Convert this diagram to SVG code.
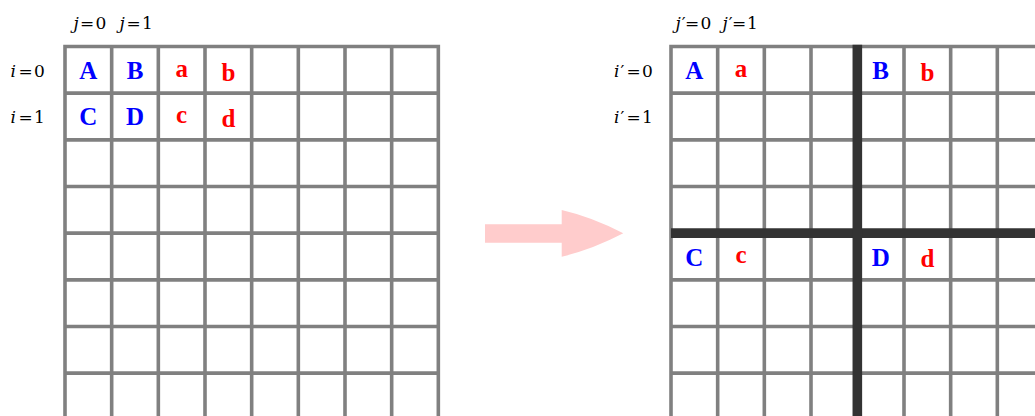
<svg xmlns="http://www.w3.org/2000/svg" width="1035" height="416" viewBox="0 0 1035 416">
<style>
.g{fill:none;stroke:#808080;stroke-width:3.6}
.t{fill:none;stroke:#333333;stroke-width:9.6}
.lbl{font-family:"DejaVu Serif","Liberation Serif",serif;font-size:17px;fill:#000}
.it{font-style:italic}
.L{font-family:"Liberation Serif","DejaVu Serif",serif;font-weight:bold;font-size:25px;text-anchor:middle}
.b{fill:#0000ff}
.r{fill:#ff0000}
</style>
<rect width="1035" height="416" fill="#ffffff"/>
<g id="left-grid">
<path class="g" d="M65,430V46.5H438.33V430"/>
<path class="g" d="M111.67,46.5V430M158.33,46.5V430M205,46.5V430M251.67,46.5V430M298.33,46.5V430M345,46.5V430M391.67,46.5V430"/>
<path class="g" d="M65,93.17H438.33M65,139.83H438.33M65,186.5H438.33M65,233.17H438.33M65,279.83H438.33M65,326.5H438.33M65,373.17H438.33"/>
</g>
<g id="left-labels">
<text class="lbl" y="29.3"><tspan class="it" x="73.5">j</tspan><tspan x="80">=</tspan><tspan x="95.5">0</tspan></text>
<text class="lbl" y="29.3"><tspan class="it" x="119.5">j</tspan><tspan x="126.5">=</tspan><tspan x="142">1</tspan></text>
<text class="lbl" y="77.3"><tspan class="it" x="10.5">i</tspan><tspan x="18.5">=</tspan><tspan x="34">0</tspan></text>
<text class="lbl" y="123.3"><tspan class="it" x="10.5">i</tspan><tspan x="18.5">=</tspan><tspan x="34">1</tspan></text>
</g>
<g id="left-cells">
<text class="L b" x="88.33" y="78.8">A</text>
<text class="L b" x="135" y="78.8">B</text>
<text class="L r" x="181.67" y="76.5">a</text>
<text class="L r" x="228.33" y="80.5">b</text>
<text class="L b" x="88.33" y="125.3">C</text>
<text class="L b" x="135" y="125.3">D</text>
<text class="L r" x="181.67" y="122.8">c</text>
<text class="L r" x="228.33" y="126.8">d</text>
</g>
<g id="connectors">
<path id="arrow" fill="#ffcccc" d="M485,224.3H561.7V210Q592,217 623.3,233.3Q592,249.6 561.7,256.7V242.7H485Z"/>
</g>
<g id="right-grid">
<path class="g" d="M671,430V46.5H1040"/>
<path class="g" d="M717.67,46.5V430M764.33,46.5V430M811,46.5V430M904,46.5V430M950.67,46.5V430M997.33,46.5V430"/>
<path class="g" d="M671,93.17H1040M671,139.83H1040M671,186.5H1040M671,279.83H1040M671,326.5H1040M671,373.17H1040"/>
<path class="t" d="M671,233.17H1040"/>
<path class="t" d="M857.33,44.7V430"/>
</g>
<g id="right-labels">
<text class="lbl" y="29.3"><tspan class="it" x="675.5">j</tspan><tspan dx="1">′</tspan><tspan x="685">=</tspan><tspan x="700.5">0</tspan></text>
<text class="lbl" y="29.3"><tspan class="it" x="722.5">j</tspan><tspan dx="1">′</tspan><tspan x="732">=</tspan><tspan x="747">1</tspan></text>
<text class="lbl" y="77.3"><tspan class="it" x="614">i</tspan><tspan dx="1">′</tspan><tspan x="626.5">=</tspan><tspan x="642">0</tspan></text>
<text class="lbl" y="123.3"><tspan class="it" x="614">i</tspan><tspan dx="1">′</tspan><tspan x="626.5">=</tspan><tspan x="642">1</tspan></text>
</g>
<g id="right-cells">
<text class="L b" x="694.33" y="78.8">A</text>
<text class="L r" x="741" y="76.5">a</text>
<text class="L b" x="880.67" y="78.8">B</text>
<text class="L r" x="927.33" y="80.5">b</text>
<text class="L b" x="694.33" y="265.5">C</text>
<text class="L r" x="741" y="263.2">c</text>
<text class="L b" x="880.67" y="265.5">D</text>
<text class="L r" x="927.33" y="267.2">d</text>
</g>
</svg>
